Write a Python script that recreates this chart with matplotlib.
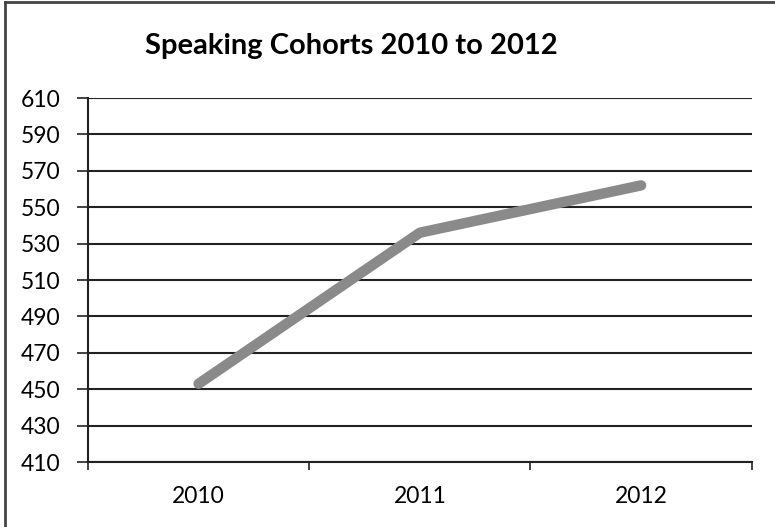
import matplotlib.pyplot as plt
import numpy as np

# data
years = ['2010', '2011', '2012']
scores = [453, 536, 562]
yticks = list(range(410, 611, 20))

plt.rcParams['font.family'] = ['Lato', 'DejaVu Sans']

fig = plt.figure(figsize=(7.75, 5.27), dpi=100)
ax = fig.add_axes([0.1135, 0.1233, 0.8565, 0.6907])

x = np.arange(len(years))
ax.plot(x, scores, color='#8a8a8a', lw=7.5, solid_capstyle='round',
        solid_joinstyle='round', zorder=3)

ax.set_xlim(-0.5, len(years) - 0.5)
ax.set_ylim(yticks[0], yticks[-1])
ax.set_yticks(yticks)
ax.set_yticklabels([str(v) for v in yticks], fontsize=16.5)
ax.yaxis.grid(True, color='#222222', lw=1.5)
ax.set_axisbelow(True)

# category labels centred, ticks at the boundaries
ax.set_xticks(np.arange(-0.5, len(years)), minor=False)
ax.set_xticklabels([''] * (len(years) + 1))
ax.set_xticks(x, minor=True)
ax.set_xticklabels(years, minor=True, fontsize=16.5)
ax.tick_params(axis='x', which='major', length=6, width=1.2, color='#222222', direction='out')
ax.tick_params(axis='x', which='minor', length=0, pad=17)
ax.tick_params(axis='y', length=8, width=1.2, color='#222222', pad=12)

for s in ['top', 'right']:
    ax.spines[s].set_visible(False)
ax.spines['left'].set_color('#222222')
ax.spines['left'].set_linewidth(1.5)
ax.spines['bottom'].set_color('#222222')
ax.spines['bottom'].set_linewidth(1.5)

fig.text(0.453, 0.913, 'Speaking Cohorts 2010 to 2012', fontsize=21,
         fontweight='bold', ha='center', va='center')

# outer frame of the chart area
fig.add_artist(plt.Line2D([0.007, 0.007], [0, 0.996], color='#444444', lw=2))
fig.add_artist(plt.Line2D([0.007, 1.0], [0.996, 0.996], color='#444444', lw=2))

fig.savefig('out.png', dpi=100)
